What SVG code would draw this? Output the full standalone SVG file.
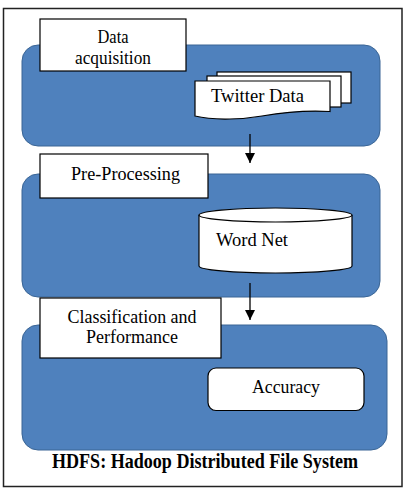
<svg xmlns="http://www.w3.org/2000/svg" width="408" height="488" viewBox="0 0 408 488">
<defs>
<style>
.frame{fill:#fff;stroke:#222;stroke-width:1.5}
.stage{fill:#4F81BD;stroke:#3A6595;stroke-width:1}
.lbl{fill:#fff;stroke:#000;stroke-width:1.2}
.shape{fill:#fff;stroke:#000;stroke-width:1.2}
.conn{stroke:#000;stroke-width:1.3;fill:none}
</style>
<marker id="arr" viewBox="0 0 10 10" refX="10" refY="5" markerWidth="10" markerHeight="10" markerUnits="userSpaceOnUse" orient="auto">
<path d="M0,0 L10,5 L0,10 Z" fill="#000"/>
</marker>
</defs>
<rect x="3.5" y="8.5" width="398.5" height="478" class="frame"/>

<g id="stage-acquisition">
<rect x="22" y="45" width="358" height="101" rx="16" class="stage"/>
</g>
<g id="stage-preprocessing">
<rect x="22" y="174" width="358" height="123" rx="16" class="stage"/>
</g>
<g id="stage-classification">
<rect x="22" y="325" width="365" height="125" rx="16" class="stage"/>
</g>

<g font-family="Liberation Serif" font-size="18" text-anchor="middle" fill="#000">
<g id="label-data-acquisition">
<rect x="40" y="19" width="146" height="52" class="lbl"/>
<text font-family="Liberation Serif" x="113" y="43" textLength="31" lengthAdjust="spacingAndGlyphs">Data</text>
<text font-family="Liberation Serif" x="113" y="64" textLength="76" lengthAdjust="spacingAndGlyphs">acquisition</text>
</g>

<g id="twitter-data">
<rect x="217" y="72" width="134" height="31" class="shape"/>
<rect x="207" y="76" width="134" height="31" class="shape"/>
<path d="M195,81 H330 V111.5 C305,110 285,112 262,116 C245,119 215,121 195,116 Z" class="shape"/>
<text font-family="Liberation Serif" x="257.5" y="102" textLength="93" lengthAdjust="spacingAndGlyphs">Twitter Data</text>
</g>

<g id="label-preprocessing">
<rect x="40" y="154" width="168" height="44" class="lbl"/>
<text font-family="Liberation Serif" x="125.5" y="179.5" textLength="109" lengthAdjust="spacingAndGlyphs">Pre-Processing</text>
</g>

<g id="word-net">
<path d="M199,215 V266 A76.5,7 0 0 0 352,266 V215" class="shape"/>
<ellipse cx="275.5" cy="215" rx="76.5" ry="7" class="shape"/>
<text font-family="Liberation Serif" x="252" y="245.5" textLength="72" lengthAdjust="spacingAndGlyphs">Word Net</text>
</g>

<g id="label-classification">
<rect x="40" y="298" width="181" height="60" class="lbl"/>
<text font-family="Liberation Serif" x="132" y="322.7" textLength="129" lengthAdjust="spacingAndGlyphs">Classification and</text>
<text font-family="Liberation Serif" x="132" y="343.3" textLength="92" lengthAdjust="spacingAndGlyphs">Performance</text>
</g>

<g id="accuracy">
<rect x="208" y="368" width="156" height="42.5" rx="8" class="shape"/>
<text font-family="Liberation Serif" x="286" y="393.3" textLength="68" lengthAdjust="spacingAndGlyphs">Accuracy</text>
</g>

<g id="caption">
<text font-family="Liberation Serif" font-size="21" font-weight="bold" x="205" y="467.5" textLength="306" lengthAdjust="spacingAndGlyphs">HDFS: Hadoop Distributed File System</text>
</g>
</g>

<g id="connectors">
<line x1="250" y1="134" x2="250" y2="163" class="conn" marker-end="url(#arr)"/>
<line x1="250" y1="283" x2="250" y2="320" class="conn" marker-end="url(#arr)"/>
</g>
</svg>
